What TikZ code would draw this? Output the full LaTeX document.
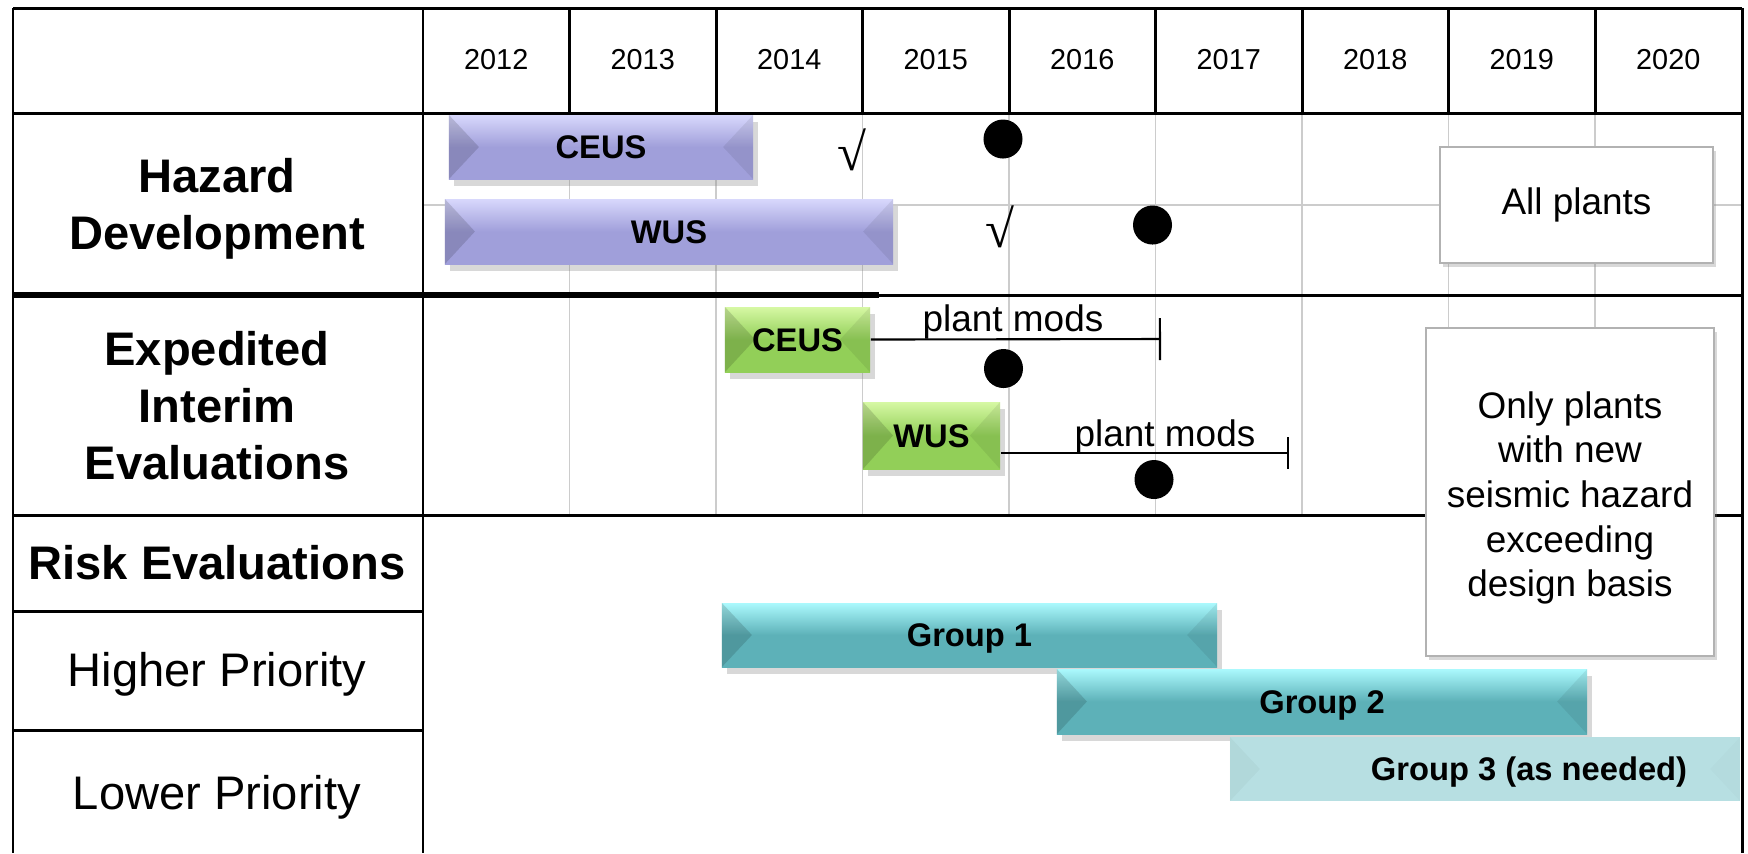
\documentclass[tikz,border=0pt]{standalone}
\usepackage{fontspec}
\setmainfont{Liberation Sans}
\newfontfamily\serifck{Liberation Serif}
\usepackage{tikz}
\usetikzlibrary{arrows.meta,positioning,shadows}

\definecolor{hazard base}{HTML}{A09FDA}
\definecolor{hazard top}{HTML}{D8D8FC}
\definecolor{interim base}{HTML}{92CF58}
\definecolor{interim top}{HTML}{D6F8A4}
\definecolor{group base}{HTML}{5DB1B8}
\definecolor{group top}{HTML}{ABF9FD}
\definecolor{group light}{HTML}{B7DFE2}

\begin{document}
\begin{tikzpicture}[x=0.01cm,y=-0.01cm]
\colorlet{grid line}{black!20}
\tikzset{
     frame/.style={draw=black, line width=0.85pt},
     thin grid/.style={draw=grid line, line width=0.55pt},
     yearlbl/.style={font=\fontsize{8.2}{10}\selectfont, inner sep=0pt},
     rowhead/.style={align=center, inner sep=0pt, font=\bfseries\fontsize{13.4}{16.2}\selectfont},
     rowsub/.style={align=center, inner sep=0pt, font=\fontsize{13.4}{16.2}\selectfont},
     bevel/.style={path picture={
        \fill[black, opacity=#1] (path picture bounding box.north west) -- ([xshift=0.3cm]path picture bounding box.west) -- (path picture bounding box.south west) -- cycle;
        \fill[black, opacity=#1/2] (path picture bounding box.north east) -- ([xshift=-0.3cm]path picture bounding box.east) -- (path picture bounding box.south east) -- cycle;}},
     bevel/.default=.14,
     bar/.style={rectangle, inner sep=0pt, bevel, text height=6.7pt, text depth=0pt,
        font=\bfseries\fontsize{9.3}{11}\selectfont,
        drop shadow={shadow xshift=0.05cm, shadow yshift=-0.07cm, opacity=.3}},
     hazbar/.style={bar, top color=hazard top, bottom color=hazard base, middle color=hazard base},
     intbar/.style={bar, top color=interim top, bottom color=interim base, middle color=interim base},
     grpbar/.style={bar, top color=group top, bottom color=group base, middle color=group base},
     lightbar/.style={rectangle, inner sep=0pt, fill=group light, bevel=.03},
     mods/.style={line width=0.6pt},
     modslbl/.style={font=\fontsize{10.5}{12}\selectfont, inner sep=0pt},
     dot/.style={circle, fill=black, inner sep=0pt, minimum size=0.39cm},
     check/.style={font=\serifck\fontsize{15}{17}\selectfont, inner sep=0pt},
     notebox/.style={rectangle, fill=white, draw=black!30, line width=0.6pt,
        font=\fontsize{10.5}{12.7}\selectfont,
        drop shadow={shadow xshift=0.03cm, shadow yshift=-0.04cm, opacity=.3}}}

\fill[white] (0,0) rectangle (1748,853);
\useasboundingbox (0,0) rectangle (1748,853);

% The grid
\foreach \i in {1,...,8} {
  \draw[thin grid] (423+146.5*\i,113) -- (423+146.5*\i,515);
  \draw[frame] (423+146.5*\i,8) -- (423+146.5*\i,113);
}
\draw[thin grid] (423,205) -- (1742,205);

\draw[frame] (13,8) -- (1742,8);
\draw[frame] (13,113) -- (1742,113);
\draw[frame] (13,295) -- (1742,295);
\draw[frame, line width=1.5pt] (13,295) -- (879,295);
\draw[frame] (13,515) -- (1742,515);
\draw[frame] (13,611) -- (423,611);
\draw[frame] (13,730) -- (423,730);
\draw[frame] (13,8) -- (13,853);
\draw[frame] (423,8) -- (423,853);
\draw[frame] (1742,8) -- (1742,853);

% The years
\foreach \yr [count=\i from 0] in {2012,2013,...,2020}
  \node (yr\yr) [yearlbl] at (496.25+146.5*\i,60) {\yr};

% The row labels
\node (hazlbl) [rowhead] at (217,209) {Hazard\\Development};
\node (intlbl) [rowhead] at (217,406) {Expedited\\Interim\\Evaluations};
\node (risklbl) [rowhead] at (217,563) {Risk Evaluations};
\node (hilbl) [rowsub] at (217,674) {Higher Priority};
\node (lolbl) [rowsub] at (217,797) {Lower Priority};

% Hazard development
\node (hazceus) [hazbar, minimum width=3.04cm, minimum height=0.64cm] at (601,147) {CEUS};
\node (hazwus) [hazbar, minimum width=4.48cm, minimum height=0.65cm] at (669,231.5) {WUS};
\node (chkceus) [check] at (852,150) {√};
\node (chkwus) [check] at (1000,227) {√};
\node (dotceus) [dot] at (1003,139) {};
\node (dotwus) [dot] at (1152.5,225) {};
\node (allbox) [notebox, minimum width=2.73cm, minimum height=1.16cm] at (1576.5,205) {All plants};

% Expedited interim evaluations
\node (intceus) [intbar, minimum width=1.45cm, minimum height=0.65cm] at (797.5,339.5) {CEUS};
\node (intwus) [intbar, minimum width=1.37cm, minimum height=0.67cm] at (931.5,435.5) {WUS};
\coordinate (ceusend) at (1161,339);
\coordinate (wusend) at (1289,453);
\draw[mods, -{Bar[width=0.42cm, line width=0.6pt]}] (intceus.east) -- (ceusend);
\draw[mods, -{Bar[width=0.32cm, line width=0.6pt]}] (intwus.east |- wusend) -- (wusend);
\node (modsceus) [modslbl] at (1013,322) {plant mods};
\node (modswus) [modslbl] at (1165,437) {plant mods};
\node (dotintceus) [dot] at (1003.5,368.5) {};
\node (dotintwus) [dot] at (1154,479.5) {};
\node (onlybox) [notebox, minimum width=2.88cm, minimum height=3.28cm] at (1570,492) {};
\node (onlylbl) [align=center, inner sep=0pt, font=\fontsize{10.5}{12.7}\selectfont] at (onlybox.center)
  [yshift=-0.06cm] {Only plants\\with new\\seismic hazard\\exceeding\\design basis};

% Risk evaluations
\node (grp1) [grpbar, minimum width=4.95cm, minimum height=0.64cm] at (969.5,635) {Group 1};
\node (grp2) [grpbar, minimum width=5.30cm, minimum height=0.65cm] at (1322,701.5) {Group 2};
\node (grp3) [lightbar, minimum width=5.10cm, minimum height=0.64cm] at (1485,769) {};
\node (grp3lbl) [font=\bfseries\fontsize{9.3}{11}\selectfont, inner sep=0pt, text height=6.7pt, text depth=0pt]
  at (1529,769) {Group 3 (as needed)};
\end{tikzpicture}
\end{document}
